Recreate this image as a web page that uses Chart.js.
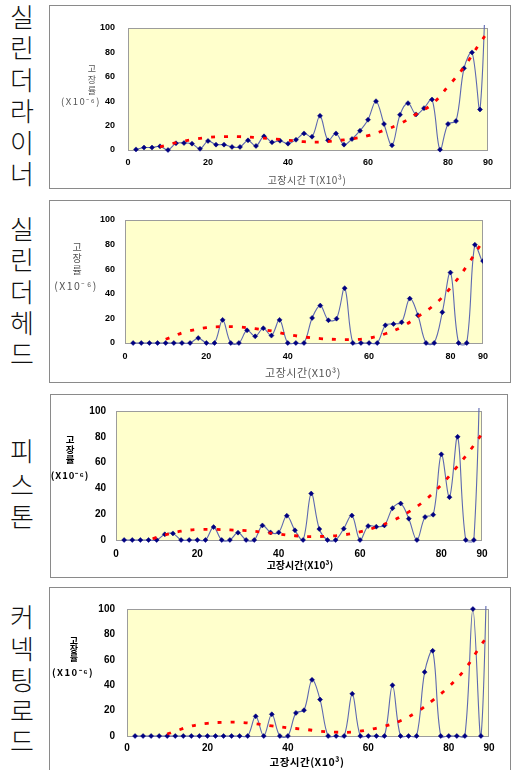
<!DOCTYPE html>
<html><head><meta charset="utf-8">
<script src="https://cdn.jsdelivr.net/npm/chart.js@4.4.1/dist/chart.umd.min.js"></script>
<style>
html,body{margin:0;padding:0;background:#fff;}
body{width:513px;height:770px;overflow:hidden;position:relative;font-family:"Noto Sans CJK KR",sans-serif;}
.box{position:absolute;border:1px solid #8a8a8a;box-sizing:border-box;}
.box canvas{position:absolute;left:0;top:0;}
.s{position:absolute;left:7px;width:30px;height:30px;line-height:30px;text-align:center;font-size:26px;font-weight:300;color:#111;}
.t{position:absolute;white-space:nowrap;transform:translate(-50%,-50%);line-height:1;}
.g{color:#555;}
.b{color:#000;font-weight:bold;}
</style></head>
<body>
<div class="box" style="left:49px;top:5px;width:462px;height:184px"><canvas id="c1" width="460" height="182"></canvas></div>
<div class="box" style="left:49px;top:200px;width:462px;height:183px"><canvas id="c2" width="460" height="181"></canvas></div>
<div class="box" style="left:50px;top:394px;width:458px;height:184px"><canvas id="c3" width="456" height="182"></canvas></div>
<div class="box" style="left:49px;top:587px;width:462px;height:190px"><canvas id="c4" width="460" height="188"></canvas></div>

<!-- side labels -->
<div class="s" style="top:1px">실</div><div class="s" style="top:32px">린</div><div class="s" style="top:64px">더</div><div class="s" style="top:95px">라</div><div class="s" style="top:127px">이</div><div class="s" style="top:158px">너</div>
<div class="s" style="top:213px">실</div><div class="s" style="top:244px">린</div><div class="s" style="top:276px">더</div><div class="s" style="top:307px">헤</div><div class="s" style="top:338px">드</div>
<div class="s" style="top:435px">피</div><div class="s" style="top:469px">스</div><div class="s" style="top:501px">톤</div>
<div class="s" style="top:601px">커</div><div class="s" style="top:633px">넥</div><div class="s" style="top:664px">팅</div><div class="s" style="top:695px">로</div><div class="s" style="top:725px">드</div>

<!-- y titles -->
<div class="t g" style="left:92px;top:68px;font-size:9px">고</div>
<div class="t g" style="left:92px;top:79px;font-size:9px">장</div>
<div class="t g" style="left:92px;top:90px;font-size:9px">률</div>
<div class="t g" style="left:81px;top:102px;font-size:9.5px;letter-spacing:1.5px">(X10⁻⁶)</div>

<div class="t g" style="left:77px;top:247px;font-size:10px">고</div>
<div class="t g" style="left:77px;top:258px;font-size:10px">장</div>
<div class="t g" style="left:77px;top:270px;font-size:10px">률</div>
<div class="t g" style="left:76px;top:286px;font-size:10.5px;letter-spacing:1.5px">(X10⁻⁶)</div>

<div class="t b" style="left:70px;top:440px;font-size:9.5px">고</div>
<div class="t b" style="left:70px;top:450px;font-size:9.5px">장</div>
<div class="t b" style="left:70px;top:460px;font-size:9.5px">률</div>
<div class="t b" style="left:70px;top:476px;font-size:9.5px;letter-spacing:1px">(X10⁻⁶)</div>

<div class="t b" style="left:74px;top:640px;font-size:9px">고</div>
<div class="t b" style="left:74px;top:648px;font-size:9px">장</div>
<div class="t b" style="left:74px;top:657px;font-size:9px">률</div>
<div class="t b" style="left:73px;top:673px;font-size:9.5px;letter-spacing:1.5px">(X10⁻⁶)</div>

<!-- x titles -->
<div class="t g" style="left:307px;top:180px;font-size:10px;letter-spacing:0.5px">고장시간 T(X10³)</div>
<div class="t g" style="left:303px;top:372px;font-size:11px;letter-spacing:0.5px">고장시간(X10³)</div>
<div class="t b" style="left:300px;top:565px;font-size:10px">고장시간(X10³)</div>
<div class="t b" style="left:307px;top:762px;font-size:10.5px;letter-spacing:0.5px">고장시간(X10³)</div>

<script>
// time axis (x 10^3 h)
const times = [2,4,6,8,10,12,14,16,18,20,22,24,26,28,30,32,34,36,38,40,42,44,46,48,50,52,54,56,58,60,62,64,66,68,70,72,74,76,78,80,82,84,86,88,90];
const xTickValues = [0,20,40,60,80,90];
const xTickLabels = ['0','20','40','60','80','90'];

// failure rate (x10^-6), 실린더라이너
const rateLiner = [0.5,2,2,3,0,5.5,5.7,5.2,1,7.4,4.4,4.4,2.5,2.5,7.9,3.3,11.2,6.3,7.6,5.2,8.4,13.6,10.9,28,7.9,13.6,4.4,9,15.8,24.8,40,21.3,3.8,28.9,38.4,29.2,34.3,41.4,0.3,21.3,23.7,67,80,33.2,200];
// 실린더헤드
const rateHead = [0,0,0,0,0,0,0,0,4,0,0,18.8,0,0,10.3,5.4,12,6,18.8,0,0,0,20.4,30.4,18.5,19.8,44.6,0,0,0,0,14.4,15.5,16.8,36.1,22.6,0,0,25,57.3,0,0,79.9,66.6,200];
// 피스톤
const ratePiston = [0,0,0,0,0,4.4,5.1,0,0,0,0,10,0,0,5.7,0,0,11.3,5.9,5.9,18.8,7.5,0,36,8.5,0,0,8.8,19,0,10.8,10.3,11.3,24.7,28.3,16.5,0,17.8,19.6,66.4,33.2,80,0,0,200];
// 커넥팅로드
const rateRod = [0,0,0,0,0,0,0,0,0,0,0,0,0,0,0,15.5,0,17.1,0,0,18.2,20.3,44.2,28.7,0,0,0,33.2,0,0,0,0,40,0,0,0,50.3,67.1,0,0,0,0,100,0,200];

// trend curves (red dashed)
const trendLinerT = [8,12,16,20,24,28,32,36,40,44,48,52,56,60,64,68,72,76,80,84,88,90];
const trendLinerV = [2.6,6,8.5,10.3,10.9,10.9,10.2,9.2,8,6.8,6.5,7.6,9.2,11.7,16.2,21.5,29.3,37.5,52,68,87.7,97];
const trendHeadT = [10,12,14,16,20,24,28,32,36,40,44,48,52,56,60,64,68,72,76,80,84,88];
const trendHeadV = [3,5.5,8.2,10,12.5,13.3,13,11.7,9.8,7,4.9,3.6,2.9,2.8,4,7.5,13,21.5,31,44.8,62.5,83];
const trendPistonT = [9,12,16,20,24,28,32,36,40,44,48,52,56,60,64,68,72,76,80,84,88,90];
const trendPistonV = [1,4,6.8,8.1,8.2,7.8,7.3,6.1,4.6,3.3,2.6,3,4,6.3,10,15,21.8,30.8,42.8,57.3,73.4,82.5];
const trendRodT = [10,12,16,20,24,28,32,36,40,44,48,52,56,60,64,68,72,76,80,84,88,90];
const trendRodV = [1.5,3.8,7.8,10,10.8,10.8,9.6,8,6.5,5.3,3.8,3,3.1,4.9,7.7,12,18.8,28,38.8,52.5,71.5,80];

const bgPlugin = {
  id: 'plotBg',
  beforeDraw(chart) {
    const a = chart.chartArea, ctx = chart.ctx;
    ctx.save();
    ctx.fillStyle = '#ffffcc';
    ctx.fillRect(a.left, a.top, a.right - a.left, a.bottom - a.top);
    ctx.strokeStyle = '#9c9c9c';
    ctx.lineWidth = 1;
    ctx.strokeRect(Math.round(a.left) + 0.5, Math.round(a.top) + 0.5, Math.round(a.right - a.left) - 1, Math.round(a.bottom - a.top));
    ctx.restore();
  }
};

function build(id, p) {
  const pts = times.map((t, i) => ({x: t, y: p.rate[i]}));
  const tr = p.trendT.map((t, i) => ({x: t, y: p.trendV[i]}));
  const tickFont = {family: '"Liberation Sans Narrow","Liberation Sans",Arial,sans-serif', size: p.fs, weight: 'bold'};
  new Chart(document.getElementById(id), {
    type: 'line',
    data: { datasets: [
      { data: tr, borderColor: '#ff0000', borderWidth: 2.8, borderDash: [4, 9], pointRadius: 0, tension: 0.4, order: 0, clip: 0, fill: false },
      { data: pts, borderColor: '#5d68b0', borderWidth: 1.1, tension: 0.35, capBezierPoints: false,
        pointStyle: 'rectRot', pointRadius: 2.5, pointBackgroundColor: '#000080', pointBorderColor: '#000080', pointBorderWidth: 0.5,
        order: 1, fill: false, clip: {left: 1, top: 3, right: 0, bottom: 3} }
    ]},
    options: {
      responsive: false, animation: false, devicePixelRatio: 1,
      layout: {padding: {left: 0, top: p.padTop, right: p.padRight, bottom: 0}},
      plugins: {legend: {display: false}, tooltip: {enabled: false}},
      scales: {
        x: {type: 'linear', min: 0, max: p.xMax,
            afterFit: s => { s.height = p.xh; },
            afterBuildTicks: s => { s.ticks = xTickValues.map(v => ({value: Math.min(v, p.xMax)})); },
            grid: {display: false, drawTicks: false}, border: {display: false},
            ticks: {autoSkip: false, maxRotation: 0, padding: p.xPad, color: '#000', font: tickFont,
                    callback: (v, i) => xTickLabels[i]}},
        y: {min: 0, max: 100,
            afterFit: s => { s.width = p.yw; },
            grid: {display: false, drawTicks: false}, border: {display: false},
            ticks: {stepSize: 20, padding: p.yPad, color: '#000', font: tickFont}}
      }
    },
    plugins: [bgPlugin]
  });
}

build('c1', {rate: rateLiner, trendT: trendLinerT, trendV: trendLinerV, xMax: 90, yw: 78, xh: 38, padTop: 22, padRight: 22, yPad: 13, xPad: 7, fs: 9});
build('c2', {rate: rateHead, trendT: trendHeadT, trendV: trendHeadV, xMax: 88, yw: 75, xh: 39, padTop: 19, padRight: 27, yPad: 10, xPad: 8, fs: 9});
build('c3', {rate: ratePiston, trendT: trendPistonT, trendV: trendPistonV, xMax: 90, yw: 65, xh: 37, padTop: 15, padRight: 25, yPad: 10, xPad: 8, fs: 10});
build('c4', {rate: rateRod, trendT: trendRodT, trendV: trendRodV, xMax: 90, yw: 77, xh: 40, padTop: 21, padRight: 21, yPad: 12, xPad: 6, fs: 10});
</script>
</body></html>
